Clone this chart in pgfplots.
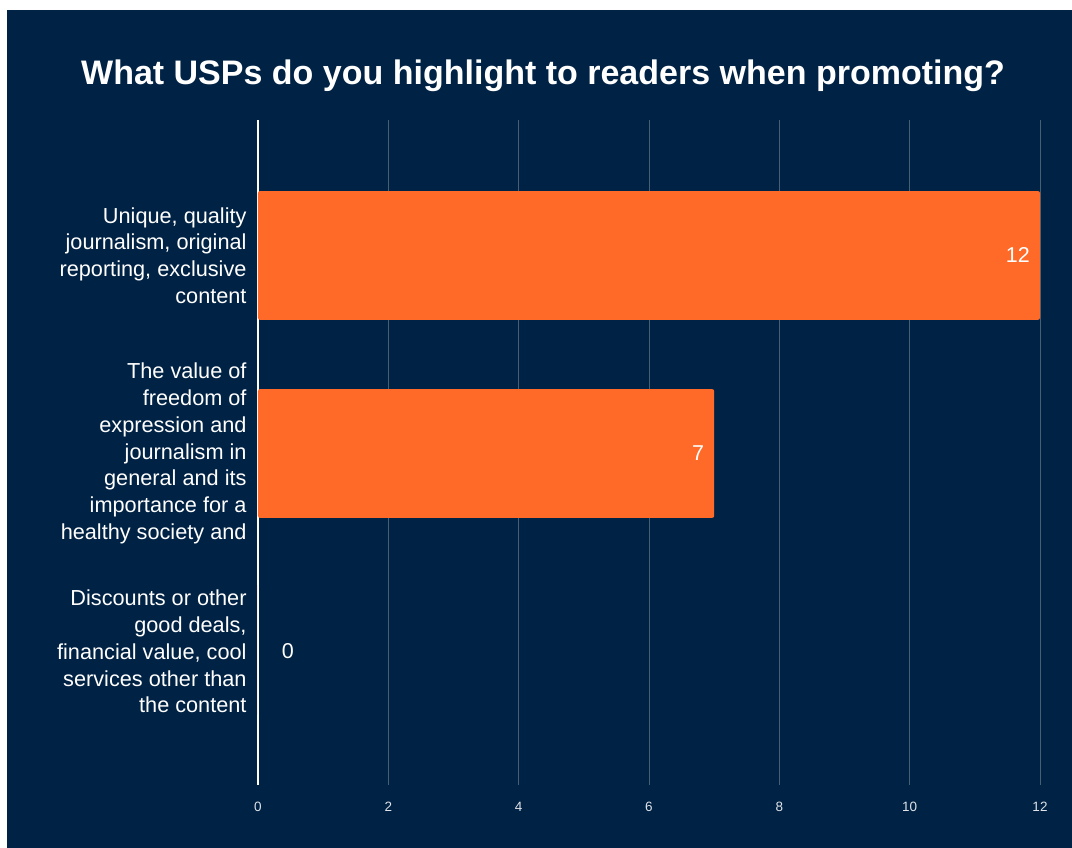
\documentclass[border=0pt]{standalone}
\usepackage{pgfplots}
\pgfplotsset{compat=1.18}
\usepackage{fontspec}
\setmainfont{Liberation Sans}
\definecolor{navy}{RGB}{0,34,68}
\definecolor{barorange}{RGB}{255,106,40}
\definecolor{gridc}{RGB}{72,94,114}
\begin{document}
\begin{tikzpicture}[x=1pt,y=1pt]
\useasboundingbox (0pt,0pt) rectangle (1072pt,-848pt);
\fill[white] (0pt,0pt) rectangle (1072pt,-848pt);
\fill[navy] (7pt,-10pt) rectangle (1072pt,-848pt);
\node[anchor=base, text=white, inner sep=0pt, font=\fontsize{34}{40}\selectfont\bfseries] at (543pt,-85pt) {What USPs do you highlight to readers when promoting?};
\begin{axis}[
  at={(258pt,-785pt)}, anchor=south west,
  scale only axis, width=782pt, height=665pt,
  /pgf/number format/assume math mode=true,
  xbar, bar width=0.65,
  xmin=0, xmax=12, ymin=-0.684, ymax=2.674, y dir=reverse,
  xtick={0,2,...,12}, ytick={0,1,2},
  yticklabels={
    {Unique, quality\\journalism, original\\reporting, exclusive\\content},
    {The value of\\freedom of\\expression and\\journalism in\\general and its\\importance for a\\healthy society and},
    {Discounts or other\\good deals,\\financial value, cool\\services other than\\the content}},
  axis line style={draw=none},
  major tick style={draw=none},
  xmajorgrids, grid style={gridc, line width=1pt},
  extra x ticks={0}, extra x tick labels={},
  extra x tick style={grid style={white, line width=1.2pt}},
  yticklabel style={align=right, font=\fontsize{21.7}{26.75}\selectfont, text=white, inner sep=0pt, xshift=-7pt},
  xticklabel style={font=\fontsize{13.5}{16}\selectfont, text=white!88!navy, inner sep=0pt, anchor=base, yshift=-26pt},
  nodes near coords,
  visualization depends on={rawx \as \rawx},
  nodes near coords style={anchor=east, inner sep=0pt, text=white, font=\fontsize{21.5}{24}\selectfont, xshift={ifthenelse(\rawx>0,-10,36)}},
]
\addplot[fill=barorange, draw=none, rounded corners=2pt] coordinates {(12,0) (7,1) (0,2)};
\end{axis}
\end{tikzpicture}
\end{document}
